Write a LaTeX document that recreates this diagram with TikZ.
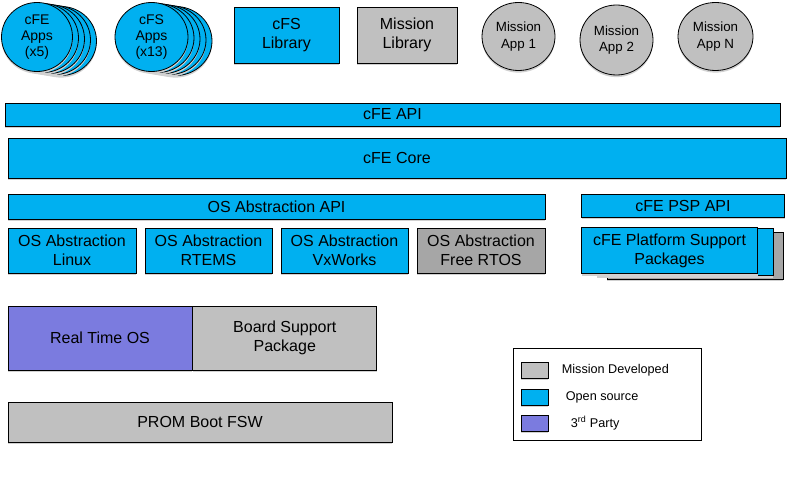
\documentclass[tikz,border=0pt]{standalone}
\usepackage{fontspec}
\setmainfont{Liberation Sans}
\usetikzlibrary{positioning,shapes.geometric,shadows}

\definecolor{opensrc}{HTML}{00B0F0}
\definecolor{missiongray}{HTML}{C0C0C0}
\definecolor{backgray}{HTML}{A6A6A6}
\definecolor{thirdparty}{HTML}{7B7BDF}

\begin{document}
\begin{tikzpicture}[x=0.75pt, y=-0.75pt, line width=0.6pt,
    px/.style 2 args={minimum width=#1*0.75pt, minimum height=#2*0.75pt}]
    % Define block styles
    \tikzstyle{shade} = [drop shadow={shadow xshift=0pt, shadow yshift=-1.6pt, fill=black!18, opacity=1}]
    \tikzstyle{block} = [draw, rectangle, inner sep=0pt, align=center, shade, font=\fontsize{12}{14.2}\selectfont]
    \tikzstyle{app} = [draw, ellipse, inner sep=0pt, align=center, shade, font=\fontsize{10.5}{11.8}\selectfont]
    \tikzstyle{mission} = [draw, ellipse, inner sep=0pt, align=center, fill=missiongray, shade, font=\fontsize{10}{12.6}\selectfont]
    \tikzstyle{swatch} = [draw, rectangle, inner sep=0pt, px={27}{16}, shade]
    \tikzstyle{legtext} = [inner sep=0pt, anchor=west, font=\fontsize{9.5}{11}\selectfont]

    \useasboundingbox (0,0) rectangle (809,477);

    % Apps on top
    \foreach \i in {4,...,1}
        \node [app, fill=opensrc, px={71}{69}] (cfeapps-\i) at (37+6*\i, 37+\i) {};
    \node [app, fill=opensrc, px={71}{69}] (cfeapps) at (37,37) {cFE\\Apps\\(x5)};
    \foreach \i in {4,...,1}
        \node [app, fill=opensrc, px={73}{69}] (cfsapps-\i) at (151.5+6*\i, 37+\i) {};
    \node [app, fill=opensrc, px={73}{69}] (cfsapps) at (151.5,37) {cFS\\Apps\\(x13)};
    \node [block, fill=opensrc, px={105}{56}] (cfslib) at (286.5,35) {cFS\\Library};
    \node [block, fill=missiongray, px={100}{56}] (misslib) at (407,35) {Mission\\Library};
    \node [mission, px={73}{68}] (app1) at (518.5,36.5) {Mission\\App 1};
    \node [mission, px={73}{70}] (app2) at (616.5,40) {Mission\\App 2};
    \node [mission, px={75}{68}] (appn) at (715.5,36.5) {Mission\\App N};

    % cFE layers
    \node [block, fill=opensrc, px={775}{23}] (cfeapi) at (392.5,114.5) {cFE API};
    \node [block, fill=opensrc, px={778}{40}] (cfecore) at (397,158) {cFE Core};

    % OS abstraction
    \node [block, fill=opensrc, px={537}{25}] (osalapi) at (276.5,206.5) {OS Abstraction API};
    \node [block, fill=opensrc, px={128}{45}] (linux) at (72,250.5) {OS Abstraction\\Linux};
    \node [block, fill=opensrc, px={127}{45}] (rtems) at (208.5,250.5) {OS Abstraction\\RTEMS};
    \node [block, fill=opensrc, px={127}{45}] (vxworks) at (344.5,250.5) {OS Abstraction\\VxWorks};
    \node [block, fill=backgray, px={128}{45}] (freertos) at (481,250.5) {OS Abstraction\\Free RTOS};

    % PSP
    \node [block, fill=opensrc, px={203}{23}] (pspapi) at (683,205.5) {cFE PSP API};
    \node [block, fill=backgray, px={176}{47}] (psp-2) at (695,255.5) {};
    \node [block, fill=opensrc, px={176}{47}] (psp-1) at (685,252) {};
    \node [block, fill=opensrc, px={176}{46}] (psp) at (669.5,250.5) {cFE Platform Support\\Packages};

    % Hardware side
    \node [block, fill=thirdparty, px={184}{64}] (rtos) at (100,338) {Real Time OS};
    \node [block, fill=missiongray, px={184}{64}, right=0pt of rtos] (bsp) {Board Support\\Package};
    \node [block, fill=missiongray, px={384}{40}] (prom) at (200,422) {PROM Boot FSW};

    % Legend
    \node [draw, fill=white, rectangle, px={188}{92}] (legend) at (607,394) {};
    \node [swatch, fill=missiongray] (legmiss) at (534.5,370) {};
    \node [swatch, fill=opensrc] (legopen) at (534.5,397) {};
    \node [swatch, fill=thirdparty] (legthird) at (534.5,423) {};
    \node [legtext, right=9.75pt of legmiss] (legmisstext) {Mission Developed};
    \node [legtext, right=12.75pt of legopen] (legopentext) {Open source};
    \node [legtext, right=16.5pt of legthird] (legthirdtext) {3\textsuperscript{rd} Party};
\end{tikzpicture}
\end{document}
